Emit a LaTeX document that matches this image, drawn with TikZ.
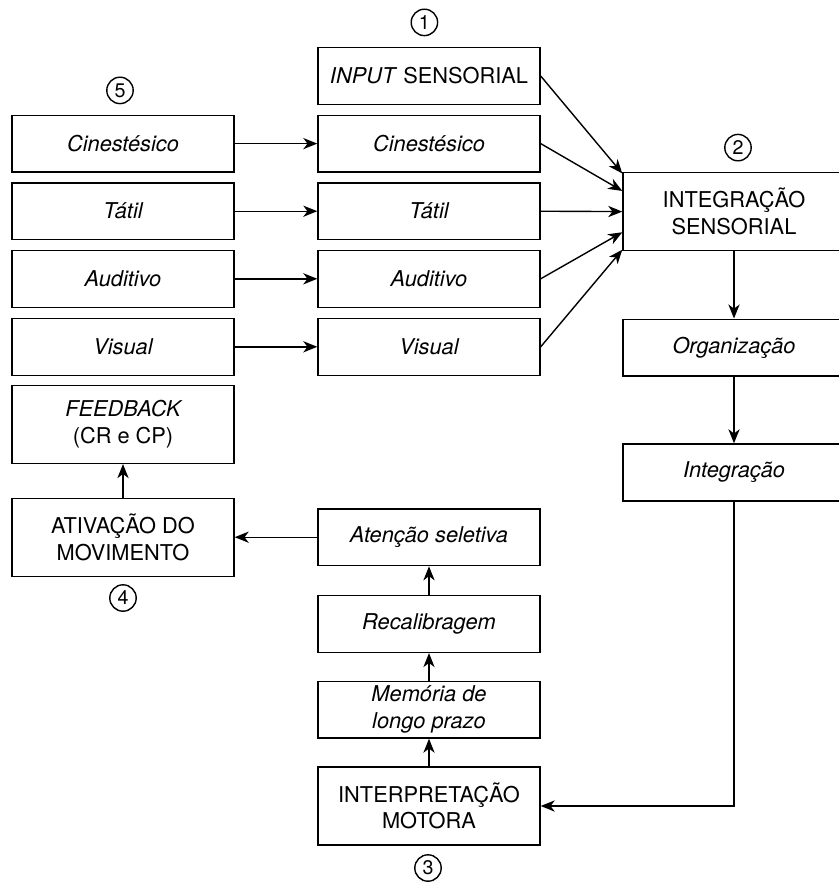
\documentclass[tikz,border=0pt]{standalone}
\usepackage{fontspec}
\setmainfont{TeX Gyre Heros}
\usetikzlibrary{arrows.meta,calc}
\tikzset{
  >={Stealth[length=10pt,width=8pt,inset=3pt]},
}
\tikzstyle{box}=[draw,line width=1pt,minimum width=5.55cm,minimum height=1.42cm,align=center,inner sep=2pt]
\tikzstyle{tall}=[minimum height=1.95cm]
\tikzstyle{it}=[font=\fontsize{15.5}{19}\selectfont\itshape]
\tikzstyle{num}=[draw,circle,line width=1pt,minimum size=.66cm,inner sep=0pt,font=\fontsize{14}{16}\selectfont]
\tikzstyle{link}=[line width=1pt,->]
\tikzstyle{every node}=[font=\fontsize{15.5}{19}\selectfont]

\begin{document}
\begin{tikzpicture}
    \useasboundingbox (0,0) rectangle (20.975,-22.1);

    % left column
    \node[box,it] (lcin) at (3.075,-3.59) {Cinestésico};
    \node[box,it] (ltat) at (3.075,-5.28) {Tátil};
    \node[box,it] (laud) at (3.075,-6.97) {Auditivo};
    \node[box,it] (lvis) at (3.075,-8.67) {Visual};
    \node[box,tall] (feed) at (3.075,-10.61) {{\itshape FEEDBACK}\\(CR e CP)};
    \node[box,tall] (ativ) at (3.075,-13.43) {ATIVAÇÃO DO\\MOVIMENTO};

    % middle column
    \node[box] (input) at (10.725,-1.9) {\textit{INPUT} SENSORIAL};
    \node[box,it] (mcin) at (10.725,-3.59) {Cinestésico};
    \node[box,it] (mtat) at (10.725,-5.28) {Tátil};
    \node[box,it] (maud) at (10.725,-6.97) {Auditivo};
    \node[box,it] (mvis) at (10.725,-8.67) {Visual};
    \node[box,it] (aten) at (10.725,-13.43) {Atenção seletiva};
    \node[box,it] (recal) at (10.725,-15.6) {Recalibragem};
    \node[box,it] (memo) at (10.725,-17.74) {Memória de\\longo prazo};
    \node[box,tall] (interp) at (10.725,-20.15) {INTERPRETAÇÃO\\MOTORA};

    % right column
    \node[box,tall] (integ) at (18.35,-5.29) {INTEGRAÇÃO\\SENSORIAL};
    \node[box,it] (org) at (18.35,-8.69) {Organização};
    \node[box,it] (intg) at (18.35,-11.81) {Integração};

    % numbers
    \node[num] (n1) at (10.61,-0.56) {1};
    \node[num] (n2) at (18.45,-3.69) {2};
    \node[num] (n3) at (10.7,-21.7) {3};
    \node[num] (n4) at (3.075,-14.95) {4};
    \node[num] (n5) at (3.0,-2.26) {5};

    % connectors
    \draw[link] (lcin) -- (mcin);
    \draw[link] (ltat) -- (mtat);
    \draw[link] (laud) -- (maud);
    \draw[link] (lvis) -- (mvis);

    \draw[link] (input.east) -- ($(integ.north west)!.02!(integ.south west)$);
    \draw[link] (mcin.east) -- ($(integ.north west)!.24!(integ.south west)$);
    \draw[link] (mtat.east) -- ($(integ.north west)!.5!(integ.south west)$);
    \draw[link] (maud.east) -- ($(integ.north west)!.76!(integ.south west)$);
    \draw[link] (mvis.east) -- ($(integ.north west)!.98!(integ.south west)$);

    \draw[link] (integ) -- (org);
    \draw[link] (org) -- (intg);
    \draw[link] (intg.south) |- (interp.east);

    \draw[link] (interp) -- (memo);
    \draw[link] (memo) -- (recal);
    \draw[link] (recal) -- (aten);
    \draw[link] (aten) -- (ativ);
    \draw[link] (ativ) -- (feed);
  \end{tikzpicture}
\end{document}
